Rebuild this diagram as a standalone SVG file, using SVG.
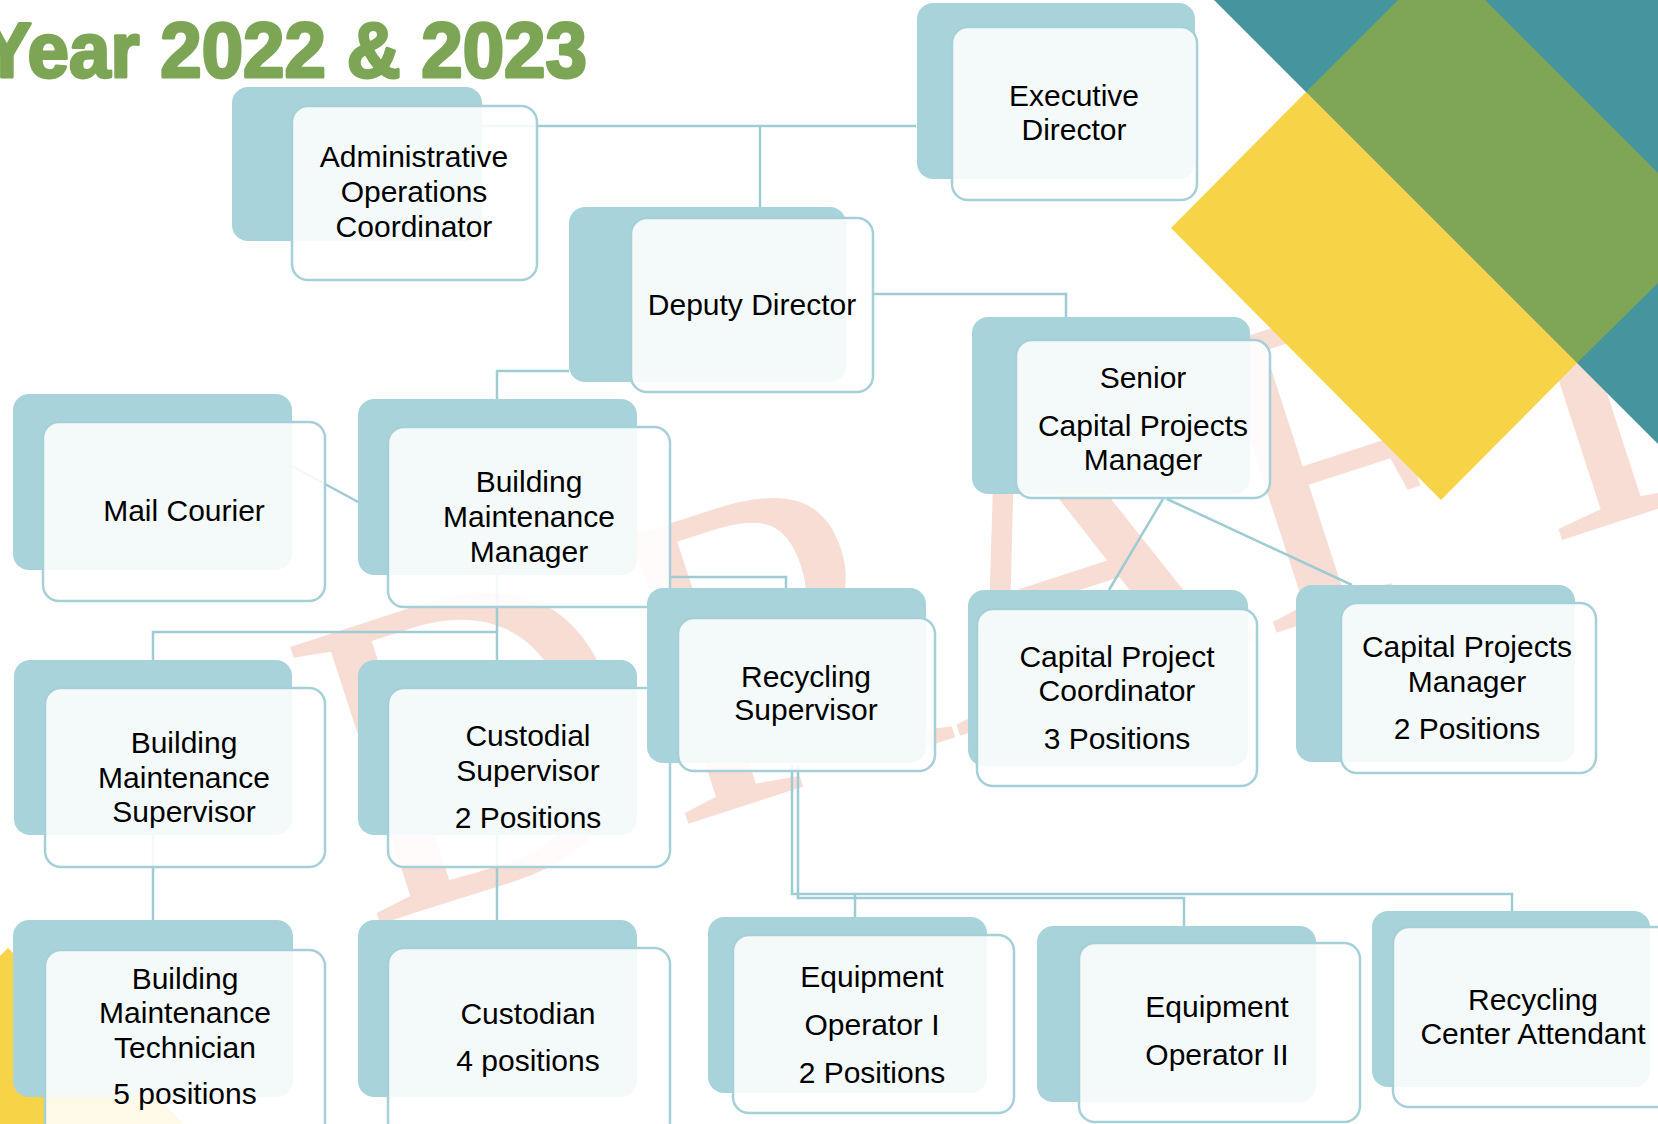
<svg xmlns="http://www.w3.org/2000/svg" width="1658" height="1124" viewBox="0 0 1658 1124">
  <style>
    .bk { fill: #a9d3da; }
    .fr { fill: #ffffff; fill-opacity: 0.87; stroke: #a6d0d8; stroke-width: 2.5; }
    .t { font-family: "Liberation Sans", Arial, sans-serif; font-size: 30px; fill: #000000; text-anchor: middle; }
    .cn { fill: none; stroke: #9fcbd3; stroke-width: 2.5; }
    .title { font-family: "Liberation Sans", Arial, sans-serif; font-weight: bold; font-size: 78px; fill: #7ca655; stroke: #7ca655; stroke-width: 3; stroke-linejoin: round; }
  </style>
  <rect width="1658" height="1124" fill="#ffffff"/>

  <!-- watermark -->
  <text x="0" y="0" transform="translate(368,928) rotate(-18)" font-family="Liberation Serif, 'Times New Roman', serif" font-size="445" fill="#f8ddd5">DRAFT</text>

  <!-- decorative blocks, top right -->
  <g id="decor">
    <polygon points="1214,0 1658,0 1658,444" fill="#45959f"/>
    <polygon points="1306,92 1398,0 1485,0 1658,173 1658,283 1577,363" fill="#7ea656"/>
    <polygon points="1171,228 1306,92 1577,363 1441,500" fill="#f7d347"/>
    <polygon points="0,956 8,948 184,1124 0,1124" fill="#f7d347"/>
  </g>

  <text class="title" x="-18" y="77" textLength="605" lengthAdjust="spacingAndGlyphs">Year 2022 &amp; 2023</text>

  <!-- connectors -->
  <g id="connectors">
    <path class="cn" d="M482 126 H916"/>
    <path class="cn" d="M760 126 V207"/>
    <path class="cn" d="M873 294 H1066 V318"/>
    <path class="cn" d="M569 371 H497 V400"/>
    <path class="cn" d="M290 465 L360 503"/>
    <path class="cn" d="M497 575 V660"/>
    <path class="cn" d="M497 632 H153 V660"/>
    <path class="cn" d="M670 577 H786 V589"/>
    <path class="cn" d="M153 835 V920"/>
    <path class="cn" d="M497 835 V920"/>
    <path class="cn" d="M1163 499 L1109 590"/>
    <path class="cn" d="M1167 499 L1352 585"/>
    <path class="cn" d="M792 765 V894 H1512 V911"/>
    <path class="cn" d="M798 765 V898 H1184 V926"/>
    <path class="cn" d="M855 894 V917"/>
  </g>

  <!-- nodes -->
  <g id="n-admin">
    <rect class="bk" x="232" y="87" width="250" height="154" rx="16"/>
    <rect class="fr" x="292" y="106" width="245" height="174" rx="16"/>
    <text class="t" x="414" y="167">Administrative</text>
    <text class="t" x="414" y="202">Operations</text>
    <text class="t" x="414" y="237">Coordinator</text>
  </g>
  <g id="n-exec">
    <rect class="bk" x="917" y="3" width="278" height="176" rx="16"/>
    <rect class="fr" x="952" y="27" width="245" height="173" rx="16"/>
    <text class="t" x="1074" y="106">Executive</text>
    <text class="t" x="1074" y="140">Director</text>
  </g>
  <g id="n-deputy">
    <rect class="bk" x="569" y="207" width="277" height="175" rx="16"/>
    <rect class="fr" x="631" y="218" width="242" height="174" rx="16"/>
    <text class="t" x="752" y="315">Deputy Director</text>
  </g>
  <g id="n-senior">
    <rect class="bk" x="972" y="317" width="278" height="177" rx="16"/>
    <rect class="fr" x="1016" y="340" width="254" height="158" rx="16"/>
    <text class="t" x="1143" y="388">Senior</text>
    <text class="t" x="1143" y="436">Capital Projects</text>
    <text class="t" x="1143" y="470">Manager</text>
  </g>
  <g id="n-mail">
    <rect class="bk" x="13" y="394" width="279" height="176" rx="16"/>
    <rect class="fr" x="43" y="422" width="282" height="179" rx="16"/>
    <text class="t" x="184" y="521">Mail Courier</text>
  </g>
  <g id="n-bmm">
    <rect class="bk" x="358" y="399" width="279" height="176" rx="16"/>
    <rect class="fr" x="388" y="427" width="282" height="180" rx="16"/>
    <text class="t" x="529" y="492">Building</text>
    <text class="t" x="529" y="527">Maintenance</text>
    <text class="t" x="529" y="562">Manager</text>
  </g>
  <g id="n-bms">
    <rect class="bk" x="14" y="660" width="278" height="175" rx="16"/>
    <rect class="fr" x="45" y="688" width="280" height="179" rx="16"/>
    <text class="t" x="184" y="753">Building</text>
    <text class="t" x="184" y="788">Maintenance</text>
    <text class="t" x="184" y="822">Supervisor</text>
  </g>
  <g id="n-custsup">
    <rect class="bk" x="358" y="660" width="279" height="175" rx="16"/>
    <rect class="fr" x="388" y="688" width="282" height="179" rx="16"/>
    <text class="t" x="528" y="746">Custodial</text>
    <text class="t" x="528" y="781">Supervisor</text>
    <text class="t" x="528" y="828">2 Positions</text>
  </g>
  <g id="n-recsup">
    <rect class="bk" x="647" y="588" width="279" height="175" rx="16"/>
    <rect class="fr" x="678" y="618" width="257" height="153" rx="16"/>
    <text class="t" x="806" y="687">Recycling</text>
    <text class="t" x="806" y="720">Supervisor</text>
  </g>
  <g id="n-cpc">
    <rect class="bk" x="968" y="590" width="280" height="176" rx="16"/>
    <rect class="fr" x="977" y="609" width="280" height="177" rx="16"/>
    <text class="t" x="1117" y="667">Capital Project</text>
    <text class="t" x="1117" y="701">Coordinator</text>
    <text class="t" x="1117" y="749">3 Positions</text>
  </g>
  <g id="n-cpm">
    <rect class="bk" x="1296" y="585" width="279" height="177" rx="16"/>
    <rect class="fr" x="1341" y="603" width="255" height="170" rx="16"/>
    <text class="t" x="1467" y="657">Capital Projects</text>
    <text class="t" x="1467" y="692">Manager</text>
    <text class="t" x="1467" y="739">2 Positions</text>
  </g>
  <g id="n-bmt">
    <rect class="bk" x="13" y="920" width="280" height="177" rx="16"/>
    <rect class="fr" x="45" y="950" width="280" height="190" rx="16"/>
    <text class="t" x="185" y="989">Building</text>
    <text class="t" x="185" y="1023">Maintenance</text>
    <text class="t" x="185" y="1058">Technician</text>
    <text class="t" x="185" y="1104">5 positions</text>
  </g>
  <g id="n-custodian">
    <rect class="bk" x="358" y="920" width="279" height="177" rx="16"/>
    <rect class="fr" x="388" y="948" width="282" height="190" rx="16"/>
    <text class="t" x="528" y="1024">Custodian</text>
    <text class="t" x="528" y="1071">4 positions</text>
  </g>
  <g id="n-eo1">
    <rect class="bk" x="708" y="917" width="279" height="176" rx="16"/>
    <rect class="fr" x="733" y="935" width="281" height="178" rx="16"/>
    <text class="t" x="872" y="987">Equipment</text>
    <text class="t" x="872" y="1035">Operator I</text>
    <text class="t" x="872" y="1083">2 Positions</text>
  </g>
  <g id="n-eo2">
    <rect class="bk" x="1037" y="926" width="279" height="176" rx="16"/>
    <rect class="fr" x="1079" y="943" width="281" height="179" rx="16"/>
    <text class="t" x="1217" y="1017">Equipment</text>
    <text class="t" x="1217" y="1065">Operator II</text>
  </g>
  <g id="n-rca">
    <rect class="bk" x="1372" y="911" width="278" height="176" rx="16"/>
    <rect class="fr" x="1393" y="927" width="280" height="180" rx="16"/>
    <text class="t" x="1533" y="1010">Recycling</text>
    <text class="t" x="1533" y="1044">Center Attendant</text>
  </g>
</svg>
